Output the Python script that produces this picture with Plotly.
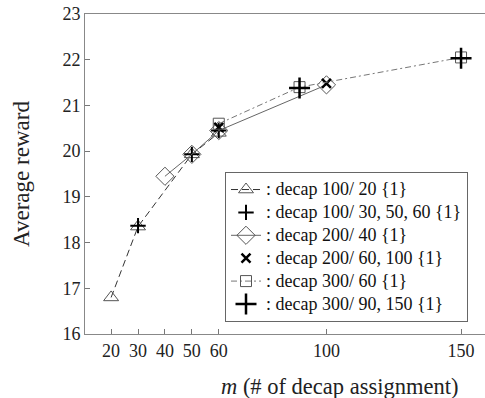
import plotly.graph_objects as go

# decap 100 series (triangle, dashed)
m_100 = [20, 30, 50, 60]
r_100 = [16.8, 18.35, 19.93, 20.4]
m_100_plus = [30, 50, 60]
r_100_plus = [18.37, 19.93, 20.45]

# decap 200 series (diamond, solid)
m_200 = [40, 50, 60, 100]
r_200 = [19.45, 19.93, 20.45, 21.45]
m_200_x = [60, 100]
r_200_x = [20.52, 21.48]

# decap 300 series (square, dash-dot)
m_300 = [60, 90, 150]
r_300 = [20.6, 21.4, 22.05]
m_300_plus = [90, 150]
r_300_plus = [21.38, 22.03]

names = [
    ": decap 100/ 20 {1}",
    ": decap 100/ 30, 50, 60 {1}",
    ": decap 200/ 40 {1}",
    ": decap 200/ 60, 100 {1}",
    ": decap 300/ 60 {1}",
    ": decap 300/ 90, 150 {1}",
]

x_ticks = [20, 30, 40, 50, 60, 100, 150]
y_ticks = [16, 17, 18, 19, 20, 21, 22, 23]

FONT = "Liberation Serif, Times New Roman, serif"


def nm(s):
    return '<span style="font-size:18px">' + s + "</span>"


fig = go.Figure()

fig.add_trace(go.Scatter(
    x=m_100, y=r_100, mode="lines+markers", name=nm(names[0]),
    line=dict(color="#333333", width=1, dash="7px,4px"),
    marker=dict(symbol="triangle-up-open", size=13, color="#555555", line=dict(width=1)),
))
fig.add_trace(go.Scatter(
    x=m_100_plus, y=r_100_plus, mode="markers", name=nm(names[1]),
    marker=dict(symbol="cross-thin-open", size=11, color="#000000", line=dict(width=2, color="#000000")),
))
fig.add_trace(go.Scatter(
    x=m_200, y=r_200, mode="lines+markers", name=nm(names[2]),
    line=dict(color="#666666", width=1),
    marker=dict(symbol="diamond-open", size=14, color="#555555", line=dict(width=1)),
))
fig.add_trace(go.Scatter(
    x=m_200_x, y=r_200_x, mode="markers", name=nm(names[3]),
    marker=dict(symbol="x-thin-open", size=9, color="#000000", line=dict(width=2.5, color="#000000")),
))
fig.add_trace(go.Scatter(
    x=m_300, y=r_300, mode="lines+markers", name=nm(names[4]),
    line=dict(color="#777777", width=1, dash="6px,3px,2px,3px"),
    marker=dict(symbol="square-open", size=11, color="#555555", line=dict(width=1)),
))
fig.add_trace(go.Scatter(
    x=m_300_plus, y=r_300_plus, mode="markers", name=nm(names[5]),
    marker=dict(symbol="cross-thin-open", size=15, color="#000000", line=dict(width=2.5, color="#000000")),
))

fig.update_layout(
    width=485, height=398,
    margin=dict(l=85, r=0, t=14, b=64),
    paper_bgcolor="white", plot_bgcolor="white",
    font=dict(family=FONT, size=18, color="#222222"),
    showlegend=True,
    legend=dict(
        x=0.9575, y=0.506, xanchor="right", yanchor="top",
        bgcolor="white", bordercolor="#666666", borderwidth=1,
        font=dict(family=FONT, size=15.3, color="#111111"),
        tracegroupgap=0, itemwidth=30,
    ),
    xaxis=dict(
        range=[10.3, 158.9], tickvals=x_ticks, ticktext=[str(v) for v in x_ticks],
        ticks="inside", ticklen=5, tickcolor="#777777",
        showline=True, linecolor="#888888", linewidth=1, mirror=True,
        showgrid=False, zeroline=False,
        tickfont=dict(family=FONT, size=18),
    ),
    yaxis=dict(
        range=[16, 23], tickvals=y_ticks,
        ticks="inside", ticklen=5, tickcolor="#777777",
        showline=True, linecolor="#888888", linewidth=1, mirror=False,
        showgrid=False, zeroline=False,
        tickfont=dict(family=FONT, size=18),
        title=dict(text="Average reward", font=dict(family=FONT, size=23), standoff=26),
    ),
    annotations=[dict(
        text="<i>m</i> (# of decap assignment)", xref="paper", yref="paper",
        x=0.635, y=-0.118, xanchor="center", yanchor="top", showarrow=False,
        font=dict(family=FONT, size=22.5, color="#222222"),
    )],
)

fig.write_html("out.html")
